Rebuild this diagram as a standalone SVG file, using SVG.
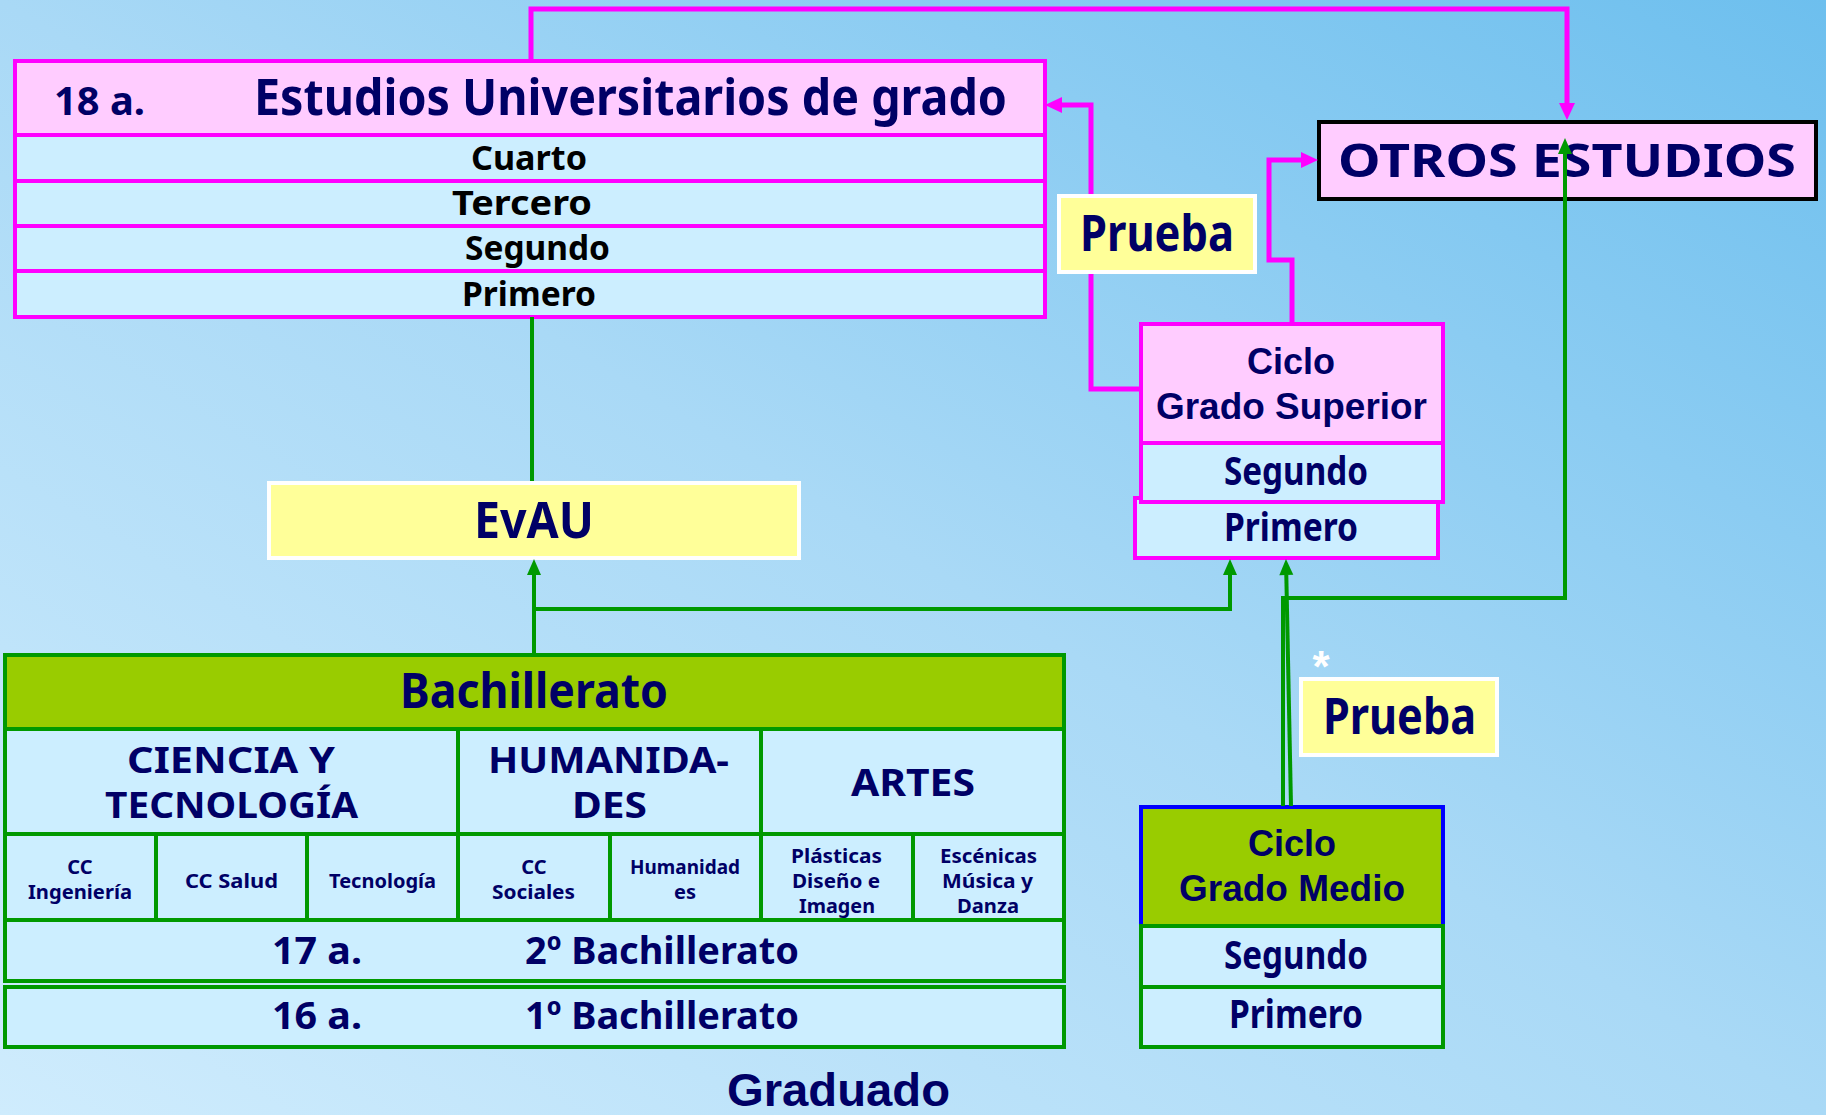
<svg xmlns="http://www.w3.org/2000/svg" width="1826" height="1115" viewBox="0 0 1826 1115">
<defs>
<linearGradient id="bg" x1="0" y1="1" x2="1" y2="0">
<stop offset="0" stop-color="#CFECFD"/>
<stop offset="0.5" stop-color="#A9D9F6"/>
<stop offset="1" stop-color="#6DBFEE"/>
</linearGradient>
<marker id="ap" markerUnits="userSpaceOnUse" viewBox="0 -9 18 18" markerWidth="18" markerHeight="18" refX="0" refY="0" orient="auto" overflow="visible">
<path d="M0,-8 L17,0 L0,8 z" fill="#FF00FF"/>
</marker>
<marker id="ag" markerUnits="userSpaceOnUse" viewBox="0 -8 17 16" markerWidth="17" markerHeight="16" refX="0" refY="0" orient="auto" overflow="visible">
<path d="M0,-7 L16,0 L0,7 z" fill="#009900"/>
</marker>
<style>
.cs{font-family:"Noto Sans","DejaVu Sans",sans-serif;font-weight:bold;fill:#000066}
.ar{font-family:"Liberation Sans",Arial,sans-serif;font-weight:bold;fill:#000066}
.blk{fill:#000000}
.pk{fill:#FFCCFF;stroke:#FF00FF;stroke-width:4}
.pr{fill:#CCEEFF;stroke:#FF00FF;stroke-width:4}
.gr{fill:#CCEEFF;stroke:#009900;stroke-width:4}
.gh{fill:#99CC00;stroke:#009900;stroke-width:4}
.yl{fill:#FFFF99;stroke:#FFFFFF;stroke-width:4}
.cp{fill:none;stroke:#FF00FF;stroke-width:5}
.cg{fill:none;stroke:#009900;stroke-width:4}
</style>
</defs>
<rect x="0" y="0" width="1826" height="1115" fill="url(#bg)"/>

<g id="universidad">
<rect class="pk" x="15" y="61" width="1030" height="74"/>
<rect class="pr" x="15" y="135" width="1030" height="46"/>
<rect class="pr" x="15" y="181" width="1030" height="45"/>
<rect class="pr" x="15" y="226" width="1030" height="45"/>
<rect class="pr" x="15" y="271" width="1030" height="46"/>
<text class="cs" x="54" y="115" font-size="40" textLength="91" lengthAdjust="spacingAndGlyphs">18 a.</text>
<text class="cs" x="254" y="115" font-size="50" textLength="753" lengthAdjust="spacingAndGlyphs">Estudios Universitarios de grado</text>
<text class="cs blk" x="471" y="170" font-size="34" textLength="116" lengthAdjust="spacingAndGlyphs">Cuarto</text>
<text class="cs blk" x="452" y="215" font-size="34" textLength="140" lengthAdjust="spacingAndGlyphs">Tercero</text>
<text class="cs blk" x="465" y="260" font-size="34" textLength="145" lengthAdjust="spacingAndGlyphs">Segundo</text>
<text class="cs blk" x="462" y="306" font-size="34" textLength="134" lengthAdjust="spacingAndGlyphs">Primero</text>
</g>

<g id="otros">
<rect x="1319" y="122" width="497" height="77" fill="#FFCCFF" stroke="#000000" stroke-width="4"/>
<text class="cs" x="1338" y="177" font-size="46" textLength="458" lengthAdjust="spacingAndGlyphs">OTROS ESTUDIOS</text>
</g>

<g id="evau">
<rect class="yl" x="269" y="483" width="530" height="75"/>
<text class="cs" x="474" y="538" font-size="50" textLength="120" lengthAdjust="spacingAndGlyphs">EvAU</text>
</g>

<g id="ciclo-superior">
<rect class="pr" x="1135" y="498" width="303" height="60"/>
<rect class="pk" x="1141" y="324" width="302" height="119"/>
<rect class="pr" x="1141" y="443" width="302" height="59"/>
<text class="ar" x="1291" y="374" font-size="36" text-anchor="middle">Ciclo</text>
<text class="ar" x="1156" y="419" font-size="36" textLength="271" lengthAdjust="spacingAndGlyphs">Grado Superior</text>
<text class="cs" x="1224" y="485" font-size="40" textLength="144" lengthAdjust="spacingAndGlyphs">Segundo</text>
<text class="cs" x="1224" y="541" font-size="40" textLength="134" lengthAdjust="spacingAndGlyphs">Primero</text>
</g>

<g id="ciclo-medio">
<rect x="1141" y="807" width="302" height="119" fill="#99CC00" stroke="#0000FF" stroke-width="4"/>
<rect class="gr" x="1141" y="926" width="302" height="61"/>
<rect class="gr" x="1141" y="987" width="302" height="60"/>
<text class="ar" x="1292" y="856" font-size="36" text-anchor="middle">Ciclo</text>
<text class="ar" x="1179" y="901" font-size="36" textLength="226" lengthAdjust="spacingAndGlyphs">Grado Medio</text>
<text class="cs" x="1224" y="969" font-size="40" textLength="144" lengthAdjust="spacingAndGlyphs">Segundo</text>
<text class="cs" x="1229" y="1028" font-size="40" textLength="134" lengthAdjust="spacingAndGlyphs">Primero</text>
</g>

<g id="bachillerato">
<rect class="gh" x="5" y="655" width="1059" height="74"/>
<rect class="gr" x="5" y="729" width="453" height="105"/>
<rect class="gr" x="458" y="729" width="303" height="105"/>
<rect class="gr" x="761" y="729" width="303" height="105"/>
<rect class="gr" x="5" y="834" width="151" height="86"/>
<rect class="gr" x="156" y="834" width="151" height="86"/>
<rect class="gr" x="307" y="834" width="151" height="86"/>
<rect class="gr" x="458" y="834" width="152" height="86"/>
<rect class="gr" x="610" y="834" width="151" height="86"/>
<rect class="gr" x="761" y="834" width="152" height="86"/>
<rect class="gr" x="913" y="834" width="151" height="86"/>
<rect class="gr" x="5" y="920" width="1059" height="61"/>
<rect class="gr" x="5" y="987" width="1059" height="60"/>
<text class="cs" x="400" y="708" font-size="48" textLength="268" lengthAdjust="spacingAndGlyphs">Bachillerato</text>
<text class="cs" x="127" y="773" font-size="35" textLength="208" lengthAdjust="spacingAndGlyphs">CIENCIA Y</text>
<text class="cs" x="105" y="818" font-size="35" textLength="253" lengthAdjust="spacingAndGlyphs">TECNOLOGÍA</text>
<text class="cs" x="488" y="773" font-size="35" textLength="241" lengthAdjust="spacingAndGlyphs">HUMANIDA-</text>
<text class="cs" x="572" y="818" font-size="35" textLength="75" lengthAdjust="spacingAndGlyphs">DES</text>
<text class="cs" x="851" y="796" font-size="38" textLength="124" lengthAdjust="spacingAndGlyphs">ARTES</text>
<g font-size="20">
<text class="cs" x="80" y="874" text-anchor="middle">CC</text>
<text class="cs" x="28" y="899" textLength="104" lengthAdjust="spacingAndGlyphs">Ingeniería</text>
<text class="cs" x="185" y="888" textLength="93" lengthAdjust="spacingAndGlyphs">CC Salud</text>
<text class="cs" x="329" y="888" textLength="107" lengthAdjust="spacingAndGlyphs">Tecnología</text>
<text class="cs" x="534" y="874" text-anchor="middle">CC</text>
<text class="cs" x="492" y="899" textLength="83" lengthAdjust="spacingAndGlyphs">Sociales</text>
<text class="cs" x="630" y="874" textLength="110" lengthAdjust="spacingAndGlyphs">Humanidad</text>
<text class="cs" x="685" y="899" text-anchor="middle">es</text>
<text class="cs" x="791" y="863" textLength="91" lengthAdjust="spacingAndGlyphs">Plásticas</text>
<text class="cs" x="792" y="888" textLength="88" lengthAdjust="spacingAndGlyphs">Diseño e</text>
<text class="cs" x="799" y="913" textLength="76" lengthAdjust="spacingAndGlyphs">Imagen</text>
<text class="cs" x="940" y="863" textLength="97" lengthAdjust="spacingAndGlyphs">Escénicas</text>
<text class="cs" x="942" y="888" textLength="91" lengthAdjust="spacingAndGlyphs">Música y</text>
<text class="cs" x="957" y="913" textLength="62" lengthAdjust="spacingAndGlyphs">Danza</text>
</g>
<text class="cs" x="272" y="964" font-size="38" textLength="90" lengthAdjust="spacingAndGlyphs">17 a.</text>
<text class="cs" x="525" y="964" font-size="38" textLength="274" lengthAdjust="spacingAndGlyphs">2º Bachillerato</text>
<text class="cs" x="272" y="1029" font-size="38" textLength="90" lengthAdjust="spacingAndGlyphs">16 a.</text>
<text class="cs" x="525" y="1029" font-size="38" textLength="274" lengthAdjust="spacingAndGlyphs">1º Bachillerato</text>
</g>

<g id="connectors">
<path class="cp" d="M531,61 V9 H1567 V103" marker-end="url(#ap)"/>
<path class="cp" d="M1139,389 H1091 V105 H1062" marker-end="url(#ap)"/>
<path class="cp" d="M1292,322 V260 H1269 V160 H1301" marker-end="url(#ap)"/>
<path class="cg" d="M532,317 V481" stroke-width="3.5"/>
<path class="cg" d="M534,653 V575" marker-end="url(#ag)"/>
<path class="cg" d="M534,609 H1230 V575" marker-end="url(#ag)"/>
<path class="cg" d="M1291,806 L1286.3,575" stroke-width="3.5" marker-end="url(#ag)"/>
<path class="cg" d="M1283,806 V598 H1565 V154" stroke-width="5.5" marker-end="url(#ag)"/>
</g>

<g id="prueba-superior">
<rect class="yl" x="1059" y="196" width="196" height="76"/>
<text class="cs" x="1080" y="251" font-size="50" textLength="154" lengthAdjust="spacingAndGlyphs">Prueba</text>
</g>

<g id="prueba-medio">
<rect class="yl" x="1301" y="679" width="196" height="76"/>
<text class="cs" x="1323" y="734" font-size="50" textLength="153" lengthAdjust="spacingAndGlyphs">Prueba</text>
<text x="1321" y="682" font-family="Liberation Sans, Arial, sans-serif" font-weight="bold" font-size="44" fill="#FFFFFF" text-anchor="middle">*</text>
</g>

<g id="graduado">
<text class="ar" x="727" y="1106" font-size="46" textLength="223" lengthAdjust="spacingAndGlyphs">Graduado</text>
</g>
</svg>
